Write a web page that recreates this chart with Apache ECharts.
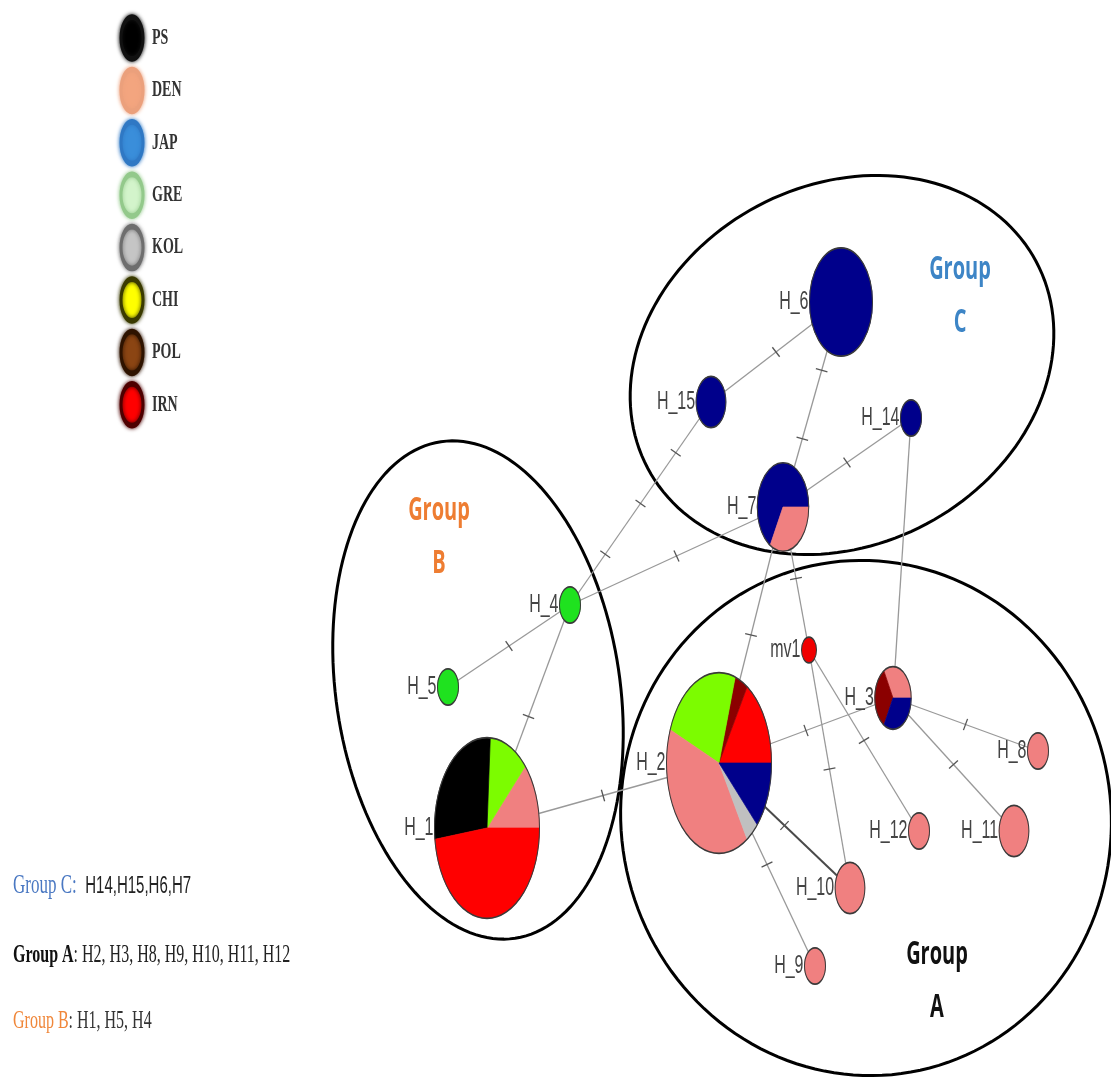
<!DOCTYPE html>
<html>
<head>
<meta charset="utf-8">
<title>Haplotype network</title>
<script src="https://cdn.jsdelivr.net/npm/echarts@6/dist/echarts.min.js"></script>
<style>
html,body{margin:0;padding:0;background:#fff;}
#main{width:1111px;height:1087px;}
</style>
</head>
<body>
<div id="main"></div>
<script>
// populations, legend order
var popNames = ['PS','DEN','JAP','GRE','KOL','CHI','POL','IRN'];
var legendFill = ['#000000','#F3A57F','#3A8EDA','#D3F4CB','#C5C5C5','#FFFF00','#8B4513','#FF0000'];
var legendEdge = ['#111111','#EBA07C','#2F78C4','#93C98B','#6E6E6E','#3A3A00','#2E1300','#4D0000'];
// colours used for the pie slices
var pieColor = {PS:'#000000', DEN:'#F08080', JAP:'#00008B', GRE:'#7CFC00', KOL:'#C0C0C0', CHI:'#FFFF00', POL:'#8B0000', IRN:'#FF0000'};

// haplotypes (layout position in the picture)
var hapNames = ['H_1','H_2','H_3','H_4','H_5','H_6','H_7','H_8','H_9','H_10','H_11','H_12','H_14','H_15','mv1'];
var hapX = [487, 719, 893, 570, 448, 841, 783, 1038, 815, 850, 1014, 919, 911, 711, 809];
var hapY = [828, 763, 698, 605, 687, 302, 507, 751, 966, 888, 831, 831, 418, 402, 650];
// samples per population, counter-clockwise from east
var hapCounts = [
    [['DEN',3],['GRE',3],['PS',7],['IRN',12]],
    [['IRN',4],['POL',1],['GRE',6],['DEN',10],['KOL',1],['JAP',3]],
    [['DEN',1],['POL',1],['JAP',1]],
    [['GRE',1]],
    [['GRE',1]],
    [['JAP',9]],
    [['JAP',4],['DEN',2]],
    [['DEN',1]],
    [['DEN',1]],
    [['DEN',2]],
    [['DEN',2]],
    [['DEN',1]],
    [['JAP',1]],
    [['JAP',2]],
    []   // median vector
];

// links: from, to, mutation ticks
var edges = [
    ['H_1','H_2',1], ['H_1','H_4',1], ['H_4','H_5',1], ['H_4','H_15',3], ['H_4','H_7',1],
    ['H_15','H_6',1], ['H_6','H_7',2], ['H_14','H_7',1], ['H_14','H_3',0], ['H_7','H_2',1],
    ['H_7','mv1',1], ['mv1','H_10',1], ['mv1','H_12',1], ['H_2','H_3',1], ['H_3','H_8',1],
    ['H_3','H_11',1], ['H_2','H_10',1], ['H_2','H_9',1]
];

// groups
var groupNames = ['Group C','Group B','Group A'];
var groupLetters = ['C','B','A'];
var groupMembers = ['H14,H15,H6,H7', 'H1, H5, H4', 'H2, H3, H8, H9, H10, H11, H12'];

// ---- layout / style ----
var STRETCH = 1.72;       // the figure is drawn tall
var TXT_STRETCH = 1.6;
var R_UNIT = 10.5;
var MV_R = 7.5;
var MV_COLOR = '#F00000';
var OUTLINE = '#3a3a3a';
var nodeTint = {H_4:'#1FE21F', H_5:'#1FE21F'};
var groupShapes = [
    {cx:842, cy:365, rx:220, ry:180, tilt:-28},
    {cx:478, cy:690, rx:142, ry:251, tilt:-8.5},
    {cx:866, cy:818, rx:245, ry:258, tilt:-10}
];
var groupLabelPos = [[960, 296], [439, 537], [937, 981]];
var groupColors = ['#3D85C6', '#EE7D32', '#111111'];
var LEG_X = 132, LEG_TOP = 38, LEG_STEP = 52.4;

var idx = {};
hapNames.forEach(function (n, i) { idx[n] = i; });

function radiusOf(i) {
    var n = 0;
    hapCounts[i].forEach(function (p) { n += p[1]; });
    return n > 0 ? R_UNIT * Math.sqrt(n) : MV_R;
}

function renderGroup(params, api) {
    var g = groupShapes[api.value(2)];
    var th = g.tilt * Math.PI / 180;
    var pts = [];
    for (var k = 0; k < 160; k++) {
        var t = 2 * Math.PI * k / 160;
        var x = g.cx + g.rx * Math.cos(t) * Math.cos(th) - g.ry * Math.sin(t) * Math.sin(th);
        var y = g.cy + g.rx * Math.cos(t) * Math.sin(th) + g.ry * Math.sin(t) * Math.cos(th);
        pts.push(api.coord([x, y]));
    }
    var i = api.value(2);
    var lp = api.coord(groupLabelPos[i]);
    return {
        type: 'group',
        children: [
            {type: 'polygon', shape: {points: pts}, style: {fill: 'none', stroke: '#000', lineWidth: 3}},
            {type: 'text', x: lp[0], y: lp[1], scaleY: TXT_STRETCH,
             style: {text: 'Group\n' + groupLetters[i], fill: groupColors[i], align: 'center', verticalAlign: 'middle',
                     font: 'bold 20px "Open Sans", sans-serif', lineHeight: 33}}
        ]
    };
}

function renderEdge(params, api) {
    var e = edges[params.dataIndex];
    var a = api.coord([api.value(0), api.value(1)]);
    var b = api.coord([api.value(2), api.value(3)]);
    var nt = api.value(4);
    var strong = (e[0] === 'H_2' && e[1] === 'H_10');
    var kids = [{
        type: 'line', shape: {x1: a[0], y1: a[1], x2: b[0], y2: b[1]},
        style: {stroke: strong ? '#4a4a4a' : '#999', lineWidth: strong ? 2 : 1.3}
    }];
    var dx = b[0] - a[0], dy = b[1] - a[1];
    var len = Math.sqrt(dx * dx + dy * dy);
    var px = -dy / len * 6, py = dx / len * 6;
    for (var k = 1; k <= nt; k++) {
        var f = k / (nt + 1);
        var mx = a[0] + dx * f, my = a[1] + dy * f;
        kids.push({type: 'line', shape: {x1: mx - px, y1: my - py, x2: mx + px, y2: my + py},
                   style: {stroke: '#555', lineWidth: 1.3}});
    }
    return {type: 'group', children: kids};
}

function renderNode(params, api) {
    var i = api.value(2);
    var c = api.coord([api.value(0), api.value(1)]);
    var parts = hapCounts[i];
    var r = radiusOf(i);
    var kids = [];
    if (parts.length === 0) {
        kids.push({type: 'circle', shape: {cx: 0, cy: 0, r: r},
                   style: {fill: MV_COLOR, stroke: OUTLINE, lineWidth: 1, strokeNoScale: true}});
    } else {
        var n = 0;
        parts.forEach(function (p) { n += p[1]; });
        var a0 = 0;
        parts.forEach(function (p) {
            var a1 = a0 + p[1] / n * 2 * Math.PI;
            var col = nodeTint[hapNames[i]] || pieColor[p[0]];
            kids.push({type: 'sector', shape: {cx: 0, cy: 0, r: r, startAngle: -a0, endAngle: -a1, clockwise: false},
                       style: {fill: col, stroke: col, lineWidth: 0.5, strokeNoScale: true}});
            a0 = a1;
        });
        kids.push({type: 'circle', shape: {cx: 0, cy: 0, r: r},
                   style: {fill: 'none', stroke: OUTLINE, lineWidth: 1, strokeNoScale: true}});
    }
    return {
        type: 'group',
        children: [
            {type: 'group', x: c[0], y: c[1], scaleY: STRETCH, children: kids},
            {type: 'text', x: c[0] - r - 1, y: c[1], scaleY: TXT_STRETCH,
             style: {text: hapNames[i], fill: '#444', align: 'right', verticalAlign: 'middle',
                     font: '16px "Liberation Sans", Arial, sans-serif'}}
        ]
    };
}

function renderLegend(params, api) {
    var i = api.value(2);
    var c = api.coord([api.value(0), api.value(1)]);
    return {
        type: 'group',
        children: [
            {type: 'group', x: c[0], y: c[1], scaleY: 1.9, children: [
                {type: 'circle', shape: {cx: 0, cy: 0, r: 11},
                 style: {fill: legendFill[i], stroke: legendEdge[i], lineWidth: 3, strokeNoScale: true,
                         shadowBlur: 4, shadowColor: legendEdge[i]}}
            ]},
            {type: 'text', x: c[0] + 20, y: c[1], scaleY: 1.6,
             style: {text: popNames[i], fill: '#333', align: 'left', verticalAlign: 'middle',
                     font: 'bold 14px "Liberation Serif", "Times New Roman", serif'}}
        ]
    };
}

var chart = echarts.init(document.getElementById('main'));
var option = {
    backgroundColor: '#fff',
    animation: false,
    grid: {left: 0, right: 0, top: 0, bottom: 0},
    xAxis: {type: 'value', min: 0, max: 1111, show: false},
    yAxis: {type: 'value', min: 0, max: 1087, inverse: true, show: false},
    graphic: [
        {type: 'text', x: 13, y: 886, scaleY: TXT_STRETCH,
         style: {text: '{c|' + groupNames[0] + ':  }{v|' + groupMembers[0] + '}', verticalAlign: 'middle',
                 rich: {c: {fill: '#4A78C2', font: '17px "Liberation Serif", serif'},
                        v: {fill: '#222', font: '15px "Liberation Sans", sans-serif'}}}},
        {type: 'text', x: 13, y: 955, scaleY: TXT_STRETCH,
         style: {text: '{a|' + groupNames[2] + '}{b|: ' + groupMembers[2] + '}', verticalAlign: 'middle',
                 rich: {a: {fill: '#111', font: 'bold 16px "Liberation Serif", serif'},
                        b: {fill: '#222', font: '16px "Liberation Serif", serif'}}}},
        {type: 'text', x: 13, y: 1021, scaleY: TXT_STRETCH,
         style: {text: '{a|' + groupNames[1] + '}{b|: ' + groupMembers[1] + '}', verticalAlign: 'middle',
                 rich: {a: {fill: '#F0873A', font: '16px "Liberation Serif", serif'},
                        b: {fill: '#333', font: '16px "Liberation Serif", serif'}}}}
    ],
    series: [
        {
            type: 'custom', coordinateSystem: 'cartesian2d', z: 1, clip: false,
            renderItem: renderGroup,
            data: groupShapes.map(function (g, i) { return [g.cx, g.cy, i]; })
        },
        {
            type: 'custom', coordinateSystem: 'cartesian2d', z: 2, clip: false,
            renderItem: renderEdge,
            encode: {x: [0, 2], y: [1, 3]},
            data: edges.map(function (e) {
                var a = idx[e[0]], b = idx[e[1]];
                return [hapX[a], hapY[a], hapX[b], hapY[b], e[2]];
            })
        },
        {
            type: 'custom', coordinateSystem: 'cartesian2d', z: 3, clip: false,
            renderItem: renderNode,
            data: hapNames.map(function (n, i) { return [hapX[i], hapY[i], i]; })
        },
        {
            type: 'custom', coordinateSystem: 'cartesian2d', z: 3, clip: false,
            renderItem: renderLegend,
            data: popNames.map(function (n, i) { return [LEG_X, LEG_TOP + i * LEG_STEP, i]; })
        }
    ]
};
chart.setOption(option);
</script>
</body>
</html>
